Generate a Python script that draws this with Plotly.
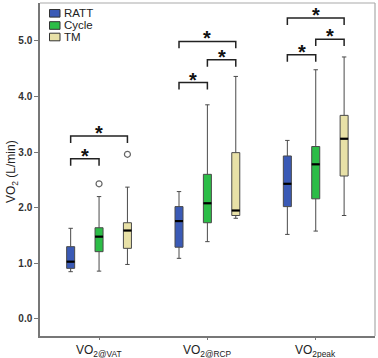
import plotly.graph_objects as go

# ---- data ----
categories = ["VO<sub>2@VAT</sub>", "VO<sub>2@RCP</sub>", "VO<sub>2peak</sub>"]
series = ["RATT", "Cycle", "TM"]
colors = ["#3a5ab6", "#2cbd47", "#e8e1a7"]

lower = {"RATT": [0.85, 1.09, 1.52], "Cycle": [0.86, 1.39, 1.58], "TM": [0.98, 1.81, 1.86]}
q1 = {"RATT": [0.91, 1.29, 2.02], "Cycle": [1.21, 1.73, 2.16], "TM": [1.27, 1.86, 2.57]}
median = {"RATT": [1.03, 1.76, 2.43], "Cycle": [1.48, 2.08, 2.78], "TM": [1.59, 1.95, 3.24]}
q3 = {"RATT": [1.30, 2.02, 2.93], "Cycle": [1.64, 2.60, 3.10], "TM": [1.73, 2.99, 3.66]}
upper = {"RATT": [1.63, 2.29, 3.21], "Cycle": [2.20, 3.85, 4.48], "TM": [2.37, 4.36, 4.71]}

# outliers: (series, category index, value)
outlier_series = ["Cycle", "TM"]
outlier_cat = [0, 0]
outlier_val = [2.43, 2.96]

# significance comparisons: category index, series a, series b, bracket height
sig_cat = [0, 0, 1, 1, 1, 2, 2, 2]
sig_a = [0, 0, 0, 1, 0, 0, 1, 0]
sig_b = [1, 2, 1, 2, 2, 1, 2, 2]
sig_h = [2.88, 3.29, 4.25, 4.66, 4.99, 4.75, 5.03, 5.41]

yticks = [0.0, 1.0, 2.0, 3.0, 4.0, 5.0]

# ---- layout constants ----
W, H = 378, 358
ML, MR, MT, MB = 40, 3, 3, 22
slot = 0.262
bw = 0.074
leg = 0.125
pw = W - ML - MR
ph = H - MT - MB

fig = go.Figure()
for k, s in enumerate(series):
    xs = [i + (k - 1) * slot for i in range(len(categories))]
    fig.add_trace(go.Box(
        x=xs, q1=q1[s], median=median[s], q3=q3[s],
        lowerfence=lower[s], upperfence=upper[s],
        width=bw, whiskerwidth=0.55,
        fillcolor=colors[k], line=dict(color="#4a4a4a", width=1),
        boxpoints=False, showlegend=False, name=s, hoverinfo="skip"))
    for i, m in enumerate(median[s]):
        fig.add_shape(type="line", x0=xs[i] - bw / 2, x1=xs[i] + bw / 2, y0=m, y1=m,
                      line=dict(color="#000", width=2.2))

# outliers
ox = [c + (series.index(s) - 1) * slot for s, c in zip(outlier_series, outlier_cat)]
fig.add_trace(go.Scatter(x=ox, y=outlier_val, mode="markers",
                         marker=dict(symbol="circle-open", size=6, color="#666",
                                     line=dict(width=1.2)),
                         showlegend=False, hoverinfo="skip"))

# significance brackets
for c, a, b, h in zip(sig_cat, sig_a, sig_b, sig_h):
    xa = c + (a - 1) * slot
    xb = c + (b - 1) * slot
    fig.add_shape(type="path",
                  path=f"M {xa},{h-leg} L {xa},{h} L {xb},{h} L {xb},{h-leg}",
                  line=dict(color="#222", width=1.5))
    fig.add_annotation(x=(xa + xb) / 2, y=h, text="*", showarrow=False,
                       yanchor="middle", yshift=3,
                       font=dict(size=20, color="#111", family="Liberation Sans", weight="bold"))

# frame top/right
fig.add_shape(type="line", xref="paper", yref="paper", x0=0, x1=1, y0=1, y1=1,
              line=dict(color="#aaa", width=1.2))
fig.add_shape(type="line", xref="paper", yref="paper", x0=1, x1=1, y0=0, y1=1,
              line=dict(color="#aaa", width=1.2))

# manual legend
leg_y = [13.3, 25.5, 37.0]
for k, s in enumerate(series):
    py = leg_y[k]
    fig.add_shape(type="rect", xref="paper", yref="paper",
                  x0=(49.5 - ML) / pw, x1=(60 - ML) / pw,
                  y0=(H - MB - (py + 3.8)) / ph, y1=(H - MB - (py - 3.8)) / ph,
                  fillcolor=colors[k], line=dict(color="#333", width=1))
    fig.add_annotation(xref="paper", yref="paper", x=(61.5 - ML) / pw,
                       y=(H - MB - py) / ph, text=s, showarrow=False,
                       xanchor="left", yanchor="middle",
                       font=dict(size=11.5, color="#222", family="Liberation Sans"))

# x category labels
for i, lab in enumerate(categories):
    fig.add_annotation(x=i, xref="x", yref="paper", y=(H - MB - 351) / ph, text=lab,
                       showarrow=False, xanchor="center", yanchor="middle",
                       font=dict(size=12, color="#222", family="Liberation Sans"))

# y axis title
fig.add_annotation(xref="paper", yref="paper", x=(12 - ML) / pw, y=(H - MB - 172) / ph,
                   text="VO<sub>2</sub> (L/min)", textangle=-90, showarrow=False,
                   xanchor="center", yanchor="middle",
                   font=dict(size=12, color="#222", family="Liberation Sans"))

fig.update_layout(
    width=W, height=H,
    margin=dict(l=ML, r=MR, t=MT, b=MB),
    plot_bgcolor="white", paper_bgcolor="white",
    xaxis=dict(range=[-0.545, 2.547], tickvals=[0, 1, 2], ticktext=["", "", ""],
               showgrid=False, zeroline=False, showline=True, linecolor="#777", linewidth=1.5,
               ticks="outside", ticklen=2, tickcolor="#777"),
    yaxis=dict(range=[-0.306, 5.68], tickvals=yticks, ticktext=[f"{v:.1f}" for v in yticks],
               showgrid=False, zeroline=False, showline=True, linecolor="#777", linewidth=1.5,
               ticks="outside", ticklen=4, tickcolor="#777",
               tickfont=dict(size=10, color="#333", family="Liberation Sans", weight="bold")),
    showlegend=False,
)

fig.write_html("out.html", config={"displayModeBar": False},
               post_script="document.body.style.margin='0px';document.body.style.overflow='hidden';")
